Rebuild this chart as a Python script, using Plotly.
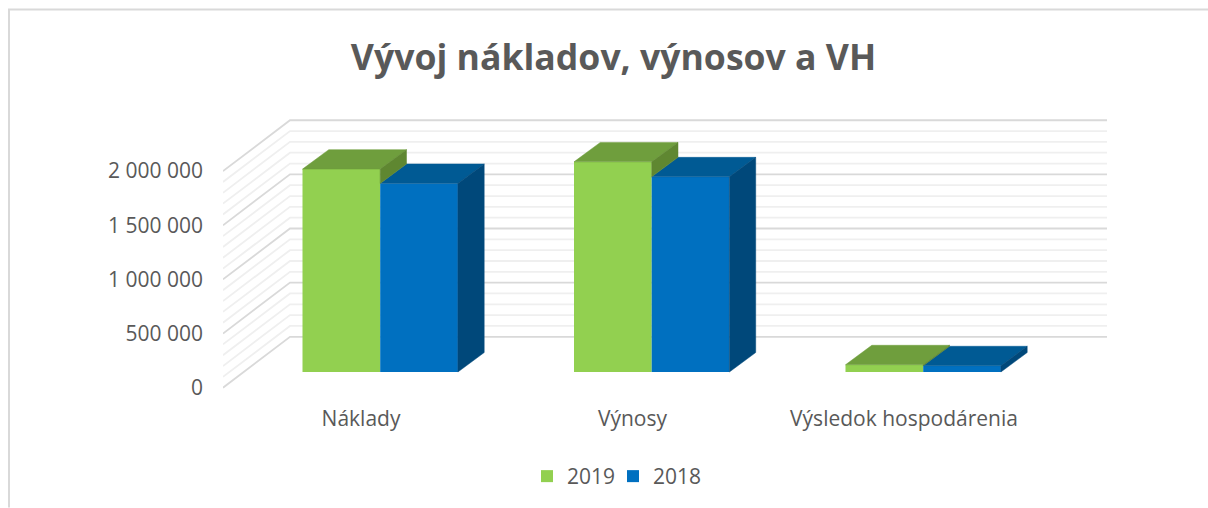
import plotly.graph_objects as go

categories = ["Náklady", "Výnosy", "Výsledok hospodárenia"]
values_2019 = [1874000, 1941000, 67000]
values_2018 = [1742000, 1803000, 58000]
tick_values = [0, 500000, 1000000, 1500000, 2000000]
tick_labels = ["0", "500 000", "1 000 000", "1 500 000", "2 000 000"]

W, H = 1208, 508
PLOT_L, PLOT_R = 223, 1107
PX_PER_CAT = 271.5
CAT0_PX = 361
PX_PER_UNIT = 54.25 / 500000
Y0_PX = 388
Y_MIN, Y_MAX = -40000, 2500000

def px_x(n):
    return n / PX_PER_CAT

def px_y(n):
    return n / PX_PER_UNIT

x_range = [(PLOT_L - CAT0_PX) / PX_PER_CAT, (PLOT_R - CAT0_PX) / PX_PER_CAT]
plot_top = Y0_PX - Y_MAX * PX_PER_UNIT
plot_bottom = Y0_PX - Y_MIN * PX_PER_UNIT

# floor / wall perspective
WALL_DX, WALL_DY = px_x(67), px_y(51)
BAR_SHIFT_X, BAR_SHIFT_Y = px_x(19.2), px_y(15.7)
BAR_DX, BAR_DY = px_x(26.3), px_y(19.5)
BAR_W = px_x(77.7)

GREEN, GREEN_TOP, GREEN_SIDE = "#92D050", "#6F9E3D", "#5F8731"
BLUE, BLUE_TOP, BLUE_SIDE = "#0070C0", "#005A94", "#00487A"
TEXT = "#595959"

def wall_path(v):
    xl = x_range[0]
    return (f"M{xl},{v} L{xl + WALL_DX},{v + WALL_DY} L{x_range[1]},{v + WALL_DY} ")

major_path = "".join(wall_path(v) for v in tick_values)
minor_path = "".join(wall_path(v) for v in range(0, 2000001, 100000) if v % 500000)

shapes = [
    dict(type="path", path=minor_path, xref="x", yref="y", layer="below",
         line=dict(color="#EFEFEF", width=1.8)),
    dict(type="path", path=major_path, xref="x", yref="y", layer="below",
         line=dict(color="#D9D9D9", width=1.8)),
]

# outer chart frame, in paper coordinates
plot_w = PLOT_R - PLOT_L
plot_h = plot_bottom - plot_top
def paper_x(p):
    return (p - PLOT_L) / plot_w
def paper_y(p):
    return (plot_bottom - p) / plot_h
shapes.append(dict(type="path", xref="paper", yref="paper", layer="below",
                   path=f"M{paper_x(9)},{paper_y(H)} L{paper_x(9)},{paper_y(9)} L{paper_x(W)},{paper_y(9)}",
                   line=dict(color="#D9D9D9", width=2)))

fig = go.Figure()

def centres(shift):
    return [i + BAR_SHIFT_X + shift for i in range(len(categories))]

x19 = centres(-BAR_W / 2)
x18 = centres(BAR_W / 2)

def poly(points_list):
    xs, ys = [], []
    for pts in points_list:
        for px, py in pts:
            xs.append(px)
            ys.append(py)
        xs.append(None)
        ys.append(None)
    return xs, ys

def add_poly(points_list, color):
    xs, ys = poly(points_list)
    fig.add_trace(go.Scatter(x=xs, y=ys, mode="lines", fill="toself", fillcolor=color,
                             line=dict(color=color, width=0.5), showlegend=False,
                             hoverinfo="skip"))

def top_face(c, v):
    l, r = c - BAR_W / 2, c + BAR_W / 2
    b = v + BAR_SHIFT_Y
    return [(l, b), (r, b), (r + BAR_DX, b + BAR_DY), (l + BAR_DX, b + BAR_DY), (l, b)]

def side_face(c, v_low, v_high):
    r = c + BAR_W / 2
    lo, hi = v_low + BAR_SHIFT_Y, v_high + BAR_SHIFT_Y
    return [(r, lo), (r, hi), (r + BAR_DX, hi + BAR_DY), (r + BAR_DX, lo + BAR_DY), (r, lo)]

# 2018 series faces first (rear-right), then visible part of 2019 faces
add_poly([top_face(c, v) for c, v in zip(x18, values_2018)], BLUE_TOP)
add_poly([side_face(c, 0, v) for c, v in zip(x18, values_2018)], BLUE_SIDE)
add_poly([top_face(c, v) for c, v in zip(x19, values_2019)], GREEN_TOP)
add_poly([side_face(c, b, a) for c, a, b in zip(x19, values_2019, values_2018)], GREEN_SIDE)

fig.add_trace(go.Bar(name="2019", x=x19, y=values_2019, base=BAR_SHIFT_Y, width=BAR_W,
                     marker=dict(color=GREEN, line=dict(width=0)), customdata=categories,
                     legend="legend",
                     hovertemplate="%{customdata}: %{y}<extra>2019</extra>"))
fig.add_trace(go.Bar(name="2018", x=x18, y=values_2018, base=BAR_SHIFT_Y, width=BAR_W,
                     marker=dict(color=BLUE, line=dict(width=0)), customdata=categories,
                     legend="legend2",
                     hovertemplate="%{customdata}: %{y}<extra>2018</extra>"))

def legend_at(left_px):
    return dict(orientation="h", x=paper_x(left_px), xanchor="left", y=paper_y(477), yanchor="middle",
                font=dict(size=21, color=TEXT), itemclick=False, bgcolor="rgba(0,0,0,0)")

fig.update_layout(
    width=W, height=H, autosize=False,
    barmode="overlay",
    paper_bgcolor="white", plot_bgcolor="white",
    margin=dict(l=PLOT_L, r=W - PLOT_R, t=plot_top, b=H - plot_bottom, pad=0, autoexpand=False),
    font=dict(family="Open Sans", size=21, color=TEXT),
    title=dict(text="Vývoj nákladov, výnosov a VH", x=613.5 / W, xanchor="center",
               y=1 - 58 / H, yanchor="middle", xref="container", yref="container",
               font=dict(family="Open Sans", size=35.6, color=TEXT, weight=700)),
    xaxis=dict(range=x_range, tickmode="array", tickvals=list(range(len(categories))),
               ticktext=categories, showgrid=False, zeroline=False, showline=False,
               ticks="", ticklabelstandoff=12, tickfont=dict(size=21, color=TEXT)),
    yaxis=dict(range=[Y_MIN, Y_MAX], tickmode="array", tickvals=tick_values,
               ticktext=tick_labels, showgrid=False, zeroline=False, showline=False,
               ticks="", ticklabelstandoff=19, tickfont=dict(size=21, color=TEXT)),
    legend=legend_at(527),
    legend2=legend_at(613),
    shapes=shapes,
)

fig.write_html("out.html", config={"displayModeBar": False},
               post_script="document.body.style.margin='0';document.body.style.overflow='hidden';")
